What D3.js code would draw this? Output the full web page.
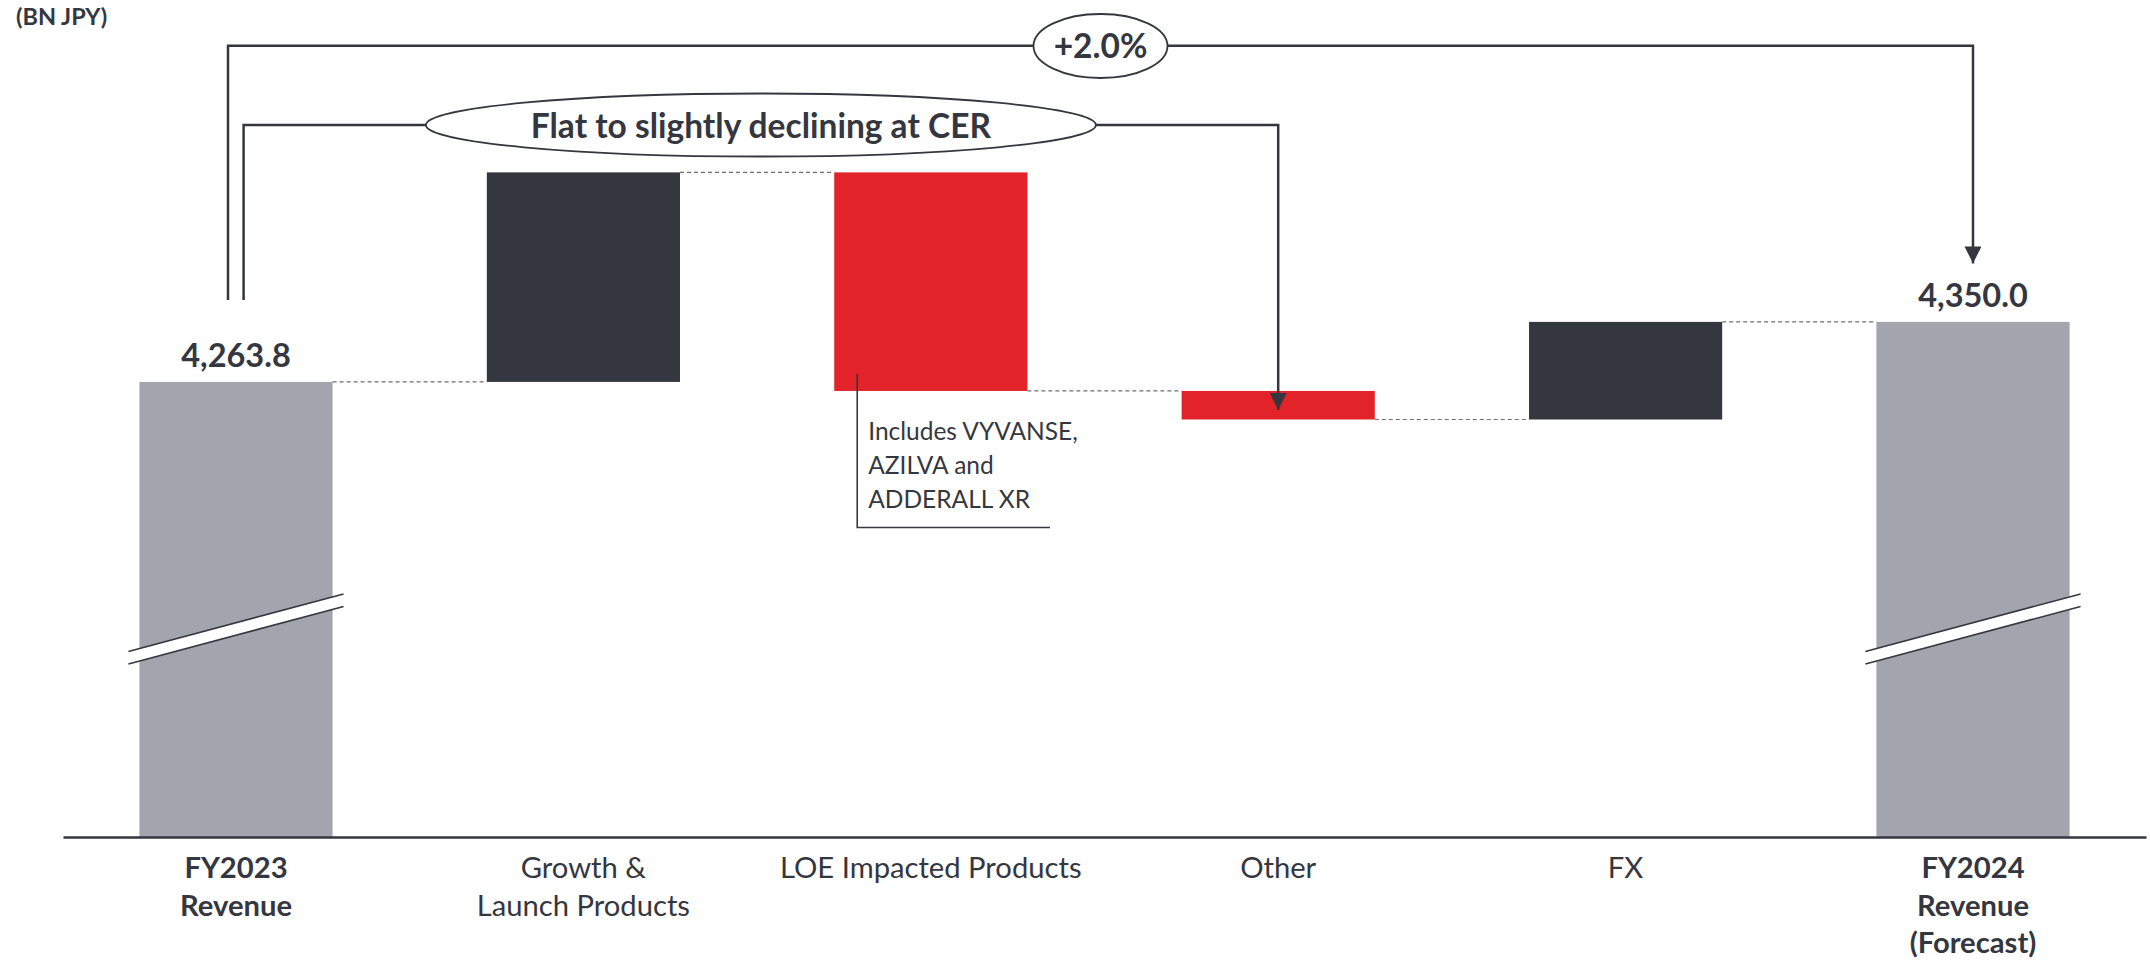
<!DOCTYPE html>
<html>
<head>
<meta charset="utf-8">
<script src="https://cdn.jsdelivr.net/npm/d3@7"></script>
<style>
  html, body { margin: 0; padding: 0; background: #fff; }
  svg { display: block; font-family: Lato, "Open Sans", sans-serif; }
</style>
</head>
<body>
<svg id="chart" width="2150" height="961"></svg>
<script>
// ---- data ----
const categories = ["FY2023 Revenue", "Growth & Launch Products", "LOE Impacted Products", "Other", "FX", "FY2024 Revenue (Forecast)"];
const categoryLines = [["FY2023", "Revenue"], ["Growth &", "Launch Products"], ["LOE Impacted Products"], ["Other"], ["FX"], ["FY2024", "Revenue", "(Forecast)"]];
const categoryBold = [true, false, false, false, false, true];
const values = [4263.8, 301.0, -314.0, -41.0, 140.2, 4350.0];
const kinds = ["total", "delta", "delta", "delta", "delta", "total"];
const valueLabels = ["4,263.8", null, null, null, null, "4,350.0"];
const unitLabel = "(BN JPY)";
const growthLabel = "+2.0%";
const cerLabel = "Flat to slightly declining at CER";
const noteLines = ["Includes VYVANSE,", "AZILVA and", "ADDERALL XR"];

// ---- colours ----
const C = { total: "#a2a5ad", up: "#353740", down: "#e2232a", ink: "#353740", dash: "#6e6e74" };

const svg = d3.select("#chart");
const axisY = 837;

const x = d3.scaleBand().domain(categories).range([63, 2146]).paddingInner(0.444).paddingOuter(0.22);
const y = d3.scaleLinear().domain([3610, 4450]).range([axisY, 252.3]);
const bw = x.bandwidth();
const cx = c => x(c) + bw / 2;

// waterfall
let run = 0;
const bars = categories.map((c, i) => {
  let lo, hi, color;
  if (kinds[i] === "total") { lo = y.domain()[0]; hi = values[i]; run = values[i]; color = C.total; }
  else { const s = run; run += values[i]; lo = Math.min(s, run); hi = Math.max(s, run); color = values[i] >= 0 ? C.up : C.down; }
  return { c, i, lo, hi, end: run, color };
});

// bars
svg.append("g").selectAll("rect").data(bars).join("rect")
  .attr("x", d => x(d.c)).attr("width", bw)
  .attr("y", d => y(d.hi)).attr("height", d => y(d.lo) - y(d.hi))
  .attr("fill", d => d.color);

// connectors
const conn = svg.append("g");
for (let i = 0; i < bars.length - 1; i++) {
  const lvl = bars[i].end;
  conn.append("line")
    .attr("x1", x(bars[i].c) + bw).attr("x2", x(bars[i + 1].c))
    .attr("y1", y(lvl)).attr("y2", y(lvl))
    .attr("stroke", C.dash).attr("stroke-width", 1.2).attr("stroke-dasharray", "4,3");
}

// axis
const xAxis = svg.append("g").attr("transform", `translate(0,${axisY})`)
  .call(d3.axisBottom(x).tickSize(0).tickFormat(""));
xAxis.select(".domain").attr("stroke", C.ink).attr("stroke-width", 2.5);

// category labels
const lab = svg.append("g");
categories.forEach((c, i) => {
  const t = lab.append("text").attr("text-anchor", "middle")
    .attr("font-size", 29.2).attr("font-weight", categoryBold[i] ? 700 : 400).attr("fill", C.ink);
  categoryLines[i].forEach((ln, k) => {
    t.append("tspan").attr("x", cx(c)).attr("y", 878 + k * 37.5).text(ln);
  });
});

// value labels
bars.forEach((d, i) => {
  if (!valueLabels[i]) return;
  svg.append("text").attr("x", cx(d.c)).attr("y", y(d.hi) - 15)
    .attr("text-anchor", "middle").attr("font-size", 32.5).attr("font-weight", 700)
    .attr("fill", C.ink).text(valueLabels[i]);
});

// axis break marks on total bars
[0, 5].forEach(i => {
  const b = bars[i];
  const xl = x(b.c) - 11, xr = x(b.c) + bw + 11;
  const yl = 651.5, yr = 594, gap = 12.5;
  svg.append("path")
    .attr("d", `M${xl},${yl} L${xr},${yr} L${xr},${yr + gap} L${xl},${yl + gap} Z`)
    .attr("fill", "#fff");
  [0, gap].forEach(off => svg.append("line")
    .attr("x1", xl).attr("y1", yl + off).attr("x2", xr).attr("y2", yr + off)
    .attr("stroke", C.ink).attr("stroke-width", 1.6));
});

// unit label
svg.append("text").attr("x", 16).attr("y", 25).attr("font-size", 23.5).attr("font-weight", 700)
  .attr("fill", C.ink).text(unitLabel);

// arrow marker
svg.append("defs").append("marker").attr("id", "arr")
  .attr("viewBox", "0 0 10 10").attr("refX", 10).attr("refY", 5)
  .attr("markerWidth", 17).attr("markerHeight", 17).attr("markerUnits", "userSpaceOnUse")
  .attr("orient", "auto")
  .append("path").attr("d", "M0,0 L10,5 L0,10 Z").attr("fill", C.ink);

// outer bracket (+2.0%)
const oL = cx(categories[0]) - 8, oR = cx(categories[5]), oTop = 45.7;
svg.append("path")
  .attr("d", `M${oL},300 V${oTop} H${oR} V${y(values[5]) - 58.5}`)
  .attr("fill", "none").attr("stroke", C.ink).attr("stroke-width", 2.5).attr("marker-end", "url(#arr)");
const oMid = (oL + oR) / 2;
svg.append("ellipse").attr("cx", oMid).attr("cy", 46).attr("rx", 67).attr("ry", 32)
  .attr("fill", "#fff").attr("stroke", C.ink).attr("stroke-width", 1.8);
svg.append("text").attr("x", oMid).attr("y", 58).attr("text-anchor", "middle")
  .attr("font-size", 33.5).attr("font-weight", 700).attr("fill", C.ink).text(growthLabel);

// inner bracket (CER)
const iL = cx(categories[0]) + 7.6, iR = cx(categories[3]), iTop = 125;
svg.append("path")
  .attr("d", `M${iL},300 V${iTop} H${iR} V${y(bars[3].end) - 9.5}`)
  .attr("fill", "none").attr("stroke", C.ink).attr("stroke-width", 2.5).attr("marker-end", "url(#arr)");
const iMid = (iL + iR) / 2;
svg.append("ellipse").attr("cx", iMid).attr("cy", 125).attr("rx", 335).attr("ry", 31.5)
  .attr("fill", "#fff").attr("stroke", C.ink).attr("stroke-width", 1.8);
svg.append("text").attr("x", iMid).attr("y", 137.5).attr("text-anchor", "middle")
  .attr("font-size", 33.5).attr("font-weight", 700).attr("fill", C.ink).text(cerLabel);

// LOE note
const nX = x(categories[2]) + 23;
svg.append("path")
  .attr("d", `M${nX},374 V527.5 H1050`)
  .attr("fill", "none").attr("stroke", C.ink).attr("stroke-width", 1.6);
const note = svg.append("text").attr("font-size", 24.5).attr("fill", C.ink);
noteLines.forEach((ln, k) => note.append("tspan").attr("x", nX + 11).attr("y", 440 + k * 34).text(ln));
</script>
</body>
</html>
